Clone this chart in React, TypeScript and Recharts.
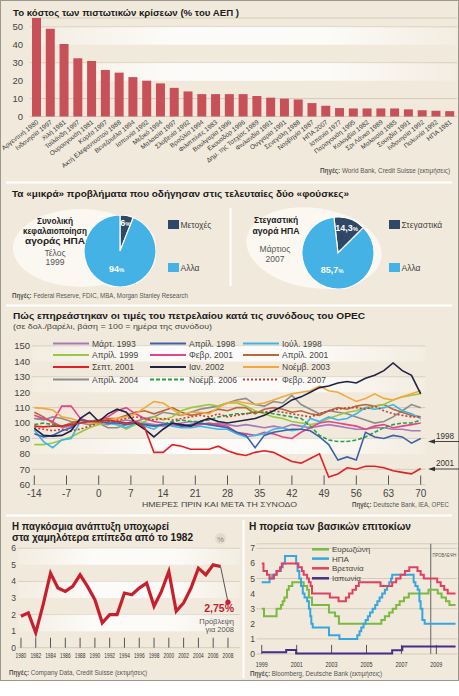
import React from "react";
import {
  BarChart,
  Bar,
  LineChart,
  Line,
  PieChart,
  Pie,
  Cell,
  XAxis,
  YAxis,
  CartesianGrid,
  ReferenceArea,
  ReferenceLine,
} from "recharts";

const FONT = '"Liberation Sans", Arial, sans-serif';
const BG = "#f1eadc";
const GRID = "#d4cbba";
const INK = "#333333";
const DARK = "#2f4867";
const LIGHT = "#45b2e6";
const RED = "#c6202e";

// --- 1. cost of credit crises, % of GDP
const crisisNames = [
  "Αργεντινή 1980", "Ινδονησία 1997", "Χιλή 1981", "Ταϊλάνδη 1997", "Ουρουγουάη 1981",
  "Κορέα 1997", "Ακτή Ελεφαντοστού 1988", "Βενεζουέλα 1994", "Ιαπωνία 1992", "Μεξικό 1994",
  "Μαλαισία 1997", "Σλοβενία 1992", "Βραζιλία 1994", "Φιλιππίνες 1983", "Βουλγαρία 1996",
  "Εκουαδόρ 1996", "Δημ. της Τσεχίας 1989", "Φινλανδία 1991", "Ουγγαρία 1991", "Σενεγάλη 1988",
  "Νορβηγία 1987", "ΗΠΑ 2007", "Ισπανία 1977", "Παραγουάη 1995", "Κολομβία 1982",
  "Σρι Λάνκα 1989", "Μαλαισία 1985", "Σουηδία 1991", "Ινδονησία 1992", "Πολωνία 1992", "ΗΠΑ 1981",
];
const crisisCost = [
  55, 49, 40.5, 32.5, 31, 26, 24.5, 22, 20, 18.5, 16, 14, 12.5, 12.5, 12.5, 12.5,
  11.5, 10.5, 10, 9.5, 7.5, 6, 4.7, 4.5, 4.5, 4.5, 4.5, 4, 3.5, 3.2, 3,
];
const costTicks = [0, 10, 20, 30, 40, 50];

// --- 2. the two bubbles
const splitNames = ["Μετοχές", "Αλλα"];
const stocksSplit = [6, 94];
const housingNames = ["Στεγαστικά", "Αλλα"];
const housingSplit = [14.3, 85.7];

// --- 3. oil prices around OPEC meetings (base 100 = meeting day)
const oilDays = [
  -14, -12, -10, -8, -6, -4, -2, 0, 2, 4, 6,
  8, 10, 12, 14, 16, 18, 20, 22, 24, 26, 28,
  30, 32, 34, 36, 38, 40, 42, 44, 46, 48, 50,
  52, 54, 56, 58, 60, 62, 64, 66, 68, 70,
];
const oilTicks = [-14, -7, 0, 7, 14, 21, 28, 35, 42, 49, 56, 63, 70];
const oilLevels = [60, 70, 80, 90, 100, 110, 120, 130, 140, 150];

const mar1993 = [
  103, 103, 101, 97, 98, 100, 101, 100, 99, 101, 102,
  101, 100, 99, 98, 99, 100, 101, 100, 99, 100, 99,
  98, 99, 98, 97, 98, 97, 99, 98, 97, 98, 99,
  98, 97, 96, 96, 97, 97, 96, 96, 95, 95,
];
const apr1998 = [
  93, 91, 92, 95, 97, 102, 101, 101, 100, 100, 99,
  100, 99, 98, 99, 100, 98, 99, 100, 99, 98, 97,
  94, 92, 84, 92, 94, 95, 96, 96, 95, 91, 86,
  76, 78, 76, 94, 91, 90, 92, 91, 87, 90,
];
const jul1998 = [
  95.5, 88, 84, 89, 90, 101, 101, 102, 100, 99, 97,
  100, 98, 96, 100, 98, 97, 97, 98, 97, 96, 96,
  93, 91, 92, 93, 96, 97, 95, 96, 103, 101, 104,
  102, 103, 106, 110, 109, 110, 112, 108, 106, 103,
];
const apr1999 = [
  86, 86, 87, 89, 91, 94, 97, 99, 100, 99, 96,
  99, 101, 104, 102, 104, 108, 110, 111, 112, 111, 113,
  113, 111, 108, 106, 104, 103, 101, 100, 99, 100, 103,
  105, 107, 108, 110, 111, 112, 115, 117, 118, 119,
];
const feb2001 = [
  105, 103, 101, 111, 111, 103, 101, 102, 104, 108, 110,
  106, 103, 101, 100, 99, 98, 98, 99, 100, 99, 98,
  94, 93, 92, 94, 93, 91, 90, 94, 97, 100, 101,
  100, 99, 98, 96, 98, 99, 97, 98, 99, 100,
];
const apr2001 = [
  107, 104, 100, 98, 100, 102, 101, 102, 103, 103, 105,
  107, 108, 106, 108, 110, 107, 105, 106, 107, 109, 108,
  110, 110, 106, 109, 110, 109, 107, 108, 106, 105, 108,
  110, 109, 111, 112, 111, 112, 109, 107, 105, 104,
];
const sep2001 = [
  98, 97.5, 98, 98, 99, 100, 101, 101, 102, 101, 100,
  101, 97, 81, 81, 86, 85, 83, 83, 83, 85, 82,
  80, 79, 81, 82, 81, 78, 75, 74, 77, 80, 65,
  67, 71, 70, 72, 72, 71, 69, 68, 67, 70.5,
];
const jan2002 = [
  96.5, 92, 91.5, 92, 95, 103, 107, 101, 106, 109, 107,
  100, 96, 91, 96, 100, 99, 98, 101, 103, 101, 100,
  101, 102, 103, 105, 108, 111, 115, 117, 120, 123, 124,
  126, 127, 126, 129, 131, 134, 139, 134, 131, 119,
];
const nov2003 = [
  110, 109.5, 108.5, 104, 103, 101, 100, 100, 102, 103, 104,
  106, 110, 114, 113, 109, 105, 107, 107, 106, 110, 113,
  114, 113, 112, 113, 115, 117, 119, 120, 121, 124, 121,
  120, 117, 114, 116, 119, 116, 115, 117, 119, 121,
];
const apr2004 = [
  103, 102, 104, 103, 101, 100, 99, 100, 97, 97, 99,
  101, 103, 104, 107, 106, 105, 107, 109, 110, 111, 113,
  115, 116, 112, 111, 114, 113, 118, 112, 109, 106, 108,
  107, 106, 104, 102, 100, 101, 104, 108, 112, 110,
];
const nov2006 = [
  99, 100, 99, 98, 99, 101, 101, 102, 101, 101, 100,
  100, 99, 98, 99, 101, 102, 101, 101, 102, 104, 105,
  106, 106, 107, 107, 106, 105, 104, 103, 98, 92, 89,
  88, 88, 89, 91, 94, 97, 99, 100, 100, 102,
];
const feb2007 = [
  97, 96, 95, 96, 95, 96, 98, 100, 101, 102, 103,
  104, 103, 102, 103, 102, 103, 104, 105, 104, 106, 104,
  105, 106, 107, 107, 108, 107, 106, 105, 104, 106, 108,
  109, 110, 110, 109, 111, 108, 106, 105, 104, 104,
];

const oilSeries = [
  { key: "mar1993", name: "Μάρτ. 1993", values: mar1993, color: "#a77ab5" },
  { key: "apr1998", name: "Απρίλ. 1998", values: apr1998, color: "#3d60a8" },
  { key: "jul1998", name: "Ιούλ. 1998", values: jul1998, color: "#3db4ea" },
  { key: "apr1999", name: "Απρίλ. 1999", values: apr1999, color: "#9cc740" },
  { key: "feb2001", name: "Φεβρ. 2001", values: feb2001, color: "#e6438a" },
  { key: "apr2001", name: "Απρίλ. 2001", values: apr2001, color: "#b6683e" },
  { key: "sep2001", name: "Σεπτ. 2001", values: sep2001, color: "#e22127" },
  { key: "jan2002", name: "Ιαν. 2002", values: jan2002, color: "#1f2246" },
  { key: "nov2003", name: "Νοέμβ. 2003", values: nov2003, color: "#f4a83b" },
  { key: "apr2004", name: "Απρίλ. 2004", values: apr2004, color: "#8c8c8c" },
  { key: "nov2006", name: "Νοέμβ. 2006", values: nov2006, color: "#27a046", dash: "4 2" },
  { key: "feb2007", name: "Φεβρ. 2007", values: feb2007, color: "#c8402e", dash: "2 2" },
];
// which line sits on top of which
const oilDrawOrder = [
  "mar1993", "apr2004", "apr2001", "apr1999", "feb2001", "jul1998",
  "nov2006", "feb2007", "nov2003", "apr1998", "jan2002", "sep2001",
];

// --- 4. world growth, %
const growthYears = [
  1980, 1981, 1982, 1983, 1984, 1985, 1986, 1987, 1988, 1989, 1990, 1991, 1992, 1993,
  1994, 1995, 1996, 1997, 1998, 1999, 2000, 2001, 2002, 2003, 2004, 2005, 2006, 2007,
];
const growthValues = [
  1.9, 2.1, 0.9, 2.6, 4.5, 3.6, 3.4, 3.7, 4.4, 3.7, 2.9, 1.5, 2.0, 2.0,
  3.3, 3.2, 3.6, 3.9, 2.5, 3.4, 4.6, 2.2, 2.7, 3.6, 4.8, 4.4, 5.0, 4.9,
];
const forecastYears = [2007, 2008];
const forecastValues = [4.9, 2.75];
const yearTicks = [1980, 1982, 1984, 1986, 1988, 1990, 1992, 1994, 1996, 1998, 2000, 2002, 2004, 2006, 2008];
const growthLevels = [0, 1, 2, 3, 4, 5, 6];

// --- 5. policy rates, %
const ezDates = [
  1999.0, 1999.13, 1999.85, 2000.1, 2000.2, 2000.3, 2000.45, 2000.55, 2000.75, 2001.4,
  2001.6, 2001.7, 2001.88, 2002.85, 2003.2, 2003.42, 2005.85, 2006.05, 2006.3, 2006.5,
  2006.7, 2006.9, 2007.15, 2007.42, 2008.55, 2009.08, 2009.3, 2009.55, 2009.75, 2010.1,
];
const ezRates = [
  3.0, 2.5, 3.0, 3.25, 3.5, 3.75, 4.25, 4.5, 4.75, 4.5,
  4.25, 3.75, 3.25, 2.75, 2.5, 2.0, 2.25, 2.5, 2.75, 3.0,
  3.25, 3.5, 3.75, 4.0, 4.25, 4.0, 3.75, 3.5, 3.25, 3.25,
];
const usDates = [
  1999.0, 1999.45, 1999.6, 1999.85, 2000.1, 2000.2, 2000.33, 2000.97, 2001.05, 2001.15,
  2001.25, 2001.35, 2001.45, 2001.6, 2001.7, 2001.78, 2001.84, 2001.92, 2002.85, 2003.45,
  2004.47, 2004.6, 2004.7, 2004.83, 2004.95, 2005.08, 2005.2, 2005.35, 2005.5, 2005.62,
  2005.75, 2005.9, 2006.05, 2006.18, 2006.3, 2006.4, 2006.47, 2007.7, 2007.8, 2007.93,
  2008.03, 2008.1, 2008.2, 2008.33, 2010.1,
];
const usRates = [
  4.75, 5.0, 5.25, 5.5, 5.75, 6.0, 6.5, 6.0, 5.5, 5.0,
  4.5, 4.0, 3.75, 3.5, 3.0, 2.5, 2.0, 1.75, 1.25, 1.0,
  1.25, 1.5, 1.75, 2.0, 2.25, 2.5, 2.75, 3.0, 3.25, 3.5,
  3.75, 4.0, 4.25, 4.5, 4.75, 5.0, 5.25, 4.75, 4.5, 4.25,
  3.5, 3.0, 2.25, 2.0, 2.0,
];
const ukDates = [
  1999.0, 1999.1, 1999.3, 1999.45, 1999.7, 1999.85, 2000.05, 2000.15, 2001.1, 2001.3,
  2001.4, 2001.6, 2001.7, 2001.8, 2001.88, 2002.9, 2003.4, 2003.82, 2004.0, 2004.2,
  2004.4, 2004.56, 2005.8, 2006.47, 2006.7, 2006.95, 2007.2, 2007.45, 2007.92, 2008.1,
  2008.28, 2009.05, 2009.25, 2009.45, 2009.65, 2010.1,
];
const ukRates = [
  6.0, 5.5, 5.25, 5.0, 5.25, 5.5, 5.75, 6.0, 5.75, 5.5,
  5.25, 5.0, 4.75, 4.5, 4.0, 3.75, 3.5, 3.75, 4.0, 4.25,
  4.5, 4.75, 4.5, 4.75, 5.0, 5.25, 5.5, 5.75, 5.5, 5.25,
  5.0, 4.75, 4.5, 4.25, 4.0, 4.0,
];
const jpDates = [1999.0, 2000.4, 2000.97, 2006.47, 2007.05, 2010.1];
const jpRates = [0.12, 0.27, 0.03, 0.25, 0.5, 0.5];
const rateTicks = [1999, 2001, 2003, 2005, 2007, 2009];
const rateLevels = [0, 1, 2, 3, 4, 5, 6, 7];
const forecastFrom = 2008.68;

const rateSeries = [
  { name: "Ευρωζώνη", dates: ezDates, rates: ezRates, color: "#7bb940" },
  { name: "ΗΠΑ", dates: usDates, rates: usRates, color: "#36a6df" },
  { name: "Βρετανία", dates: ukDates, rates: ukRates, color: "#e2405f" },
  { name: "Ιαπωνία", dates: jpDates, rates: jpRates, color: "#4a2b87" },
];

const crisisData = crisisNames.map((name, i) => ({ name, cost: crisisCost[i] }));
const oilData = oilDays.map((day, i) => {
  const row: Record<string, number> = { day };
  oilSeries.forEach((s) => (row[s.key] = s.values[i]));
  return row;
});
const growthData = growthYears.map((year, i) => ({ year, value: growthValues[i] }));
const forecastData = forecastYears.map((year, i) => ({ year, value: forecastValues[i] }));
const stocksData = splitNames.map((name, i) => ({ name, value: stocksSplit[i] }));
const housingData = housingNames.map((name, i) => ({ name, value: housingSplit[i] }));

type TP = {
  x: number;
  y: number;
  s?: number;
  w?: number;
  b?: boolean;
  c?: string;
  a?: "start" | "middle" | "end";
  children: React.ReactNode;
};
function T({ x, y, s = 9, w, b, c = INK, a = "start", children }: TP) {
  return (
    <text
      x={x}
      y={y}
      fontSize={s}
      fontWeight={b ? "bold" : "normal"}
      fill={c}
      textAnchor={a}
      fontFamily={FONT}
      textLength={w}
      lengthAdjust={w ? "spacingAndGlyphs" : undefined}
    >
      {children}
    </text>
  );
}

function Source({ x, y, w, text }: { x: number; y: number; w: number; text: string }) {
  return (
    <T x={x} y={y} s={6.5} w={w} c="#555">
      <tspan fontWeight="bold">Πηγές:</tspan> {text}
    </T>
  );
}

function CrisisTick({ x, y, payload }: any) {
  const tx = x + 2;
  const ty = y + 6.5;
  return (
    <text x={tx} y={ty} transform={`rotate(-38 ${tx} ${ty})`} textAnchor="end" fontSize={6.5} fill="#3a3a3a" fontFamily={FONT}>
      {payload.value}
    </text>
  );
}

function YearTick({ x, y, payload, dy, size, len }: any) {
  return (
    <text x={x} y={y + dy} textAnchor="middle" fontSize={size} fill="#333" fontFamily={FONT} textLength={len} lengthAdjust="spacingAndGlyphs">
      {payload.value}
    </text>
  );
}

const RAD = Math.PI / 180;
function pieLabel(factors: number[]) {
  return (p: any) => {
    const r = p.outerRadius * factors[p.index];
    const x = p.cx + r * Math.cos(-p.midAngle * RAD);
    const y = p.cy + r * Math.sin(-p.midAngle * RAD);
    return (
      <text x={x} y={y} dy={3.5} textAnchor="middle" fill="#fff" fontSize={9} fontWeight="bold" fontFamily={FONT}>
        {String(p.value).replace(".", ",")}
        <tspan fontSize={6}>%</tspan>
      </text>
    );
  };
}

function Band({ id }: { id: string }) {
  return (
    <linearGradient id={id} x1="0" y1="0" x2="1" y2="0">
      <stop offset="0%" stopColor="#ffffff" stopOpacity={0.15} />
      <stop offset="35%" stopColor="#ffffff" stopOpacity={0.85} />
      <stop offset="70%" stopColor="#ffffff" stopOpacity={0.8} />
      <stop offset="100%" stopColor="#ffffff" stopOpacity={0.15} />
    </linearGradient>
  );
}

const axisTick = (size: number) => ({ fontSize: size, fill: "#444", fontFamily: FONT });

export default function App() {
  return (
    <div style={{ position: "absolute", left: 0, top: 0, width: 459, height: 696, background: "#fff", overflow: "hidden" }}>
      {/* background panels */}
      <svg width={459} height={696} style={{ position: "absolute", left: 0, top: 0 }}>
        <rect x={0.5} y={0.5} width={458} height={680} fill={BG} stroke="#9d978c" />
        <line x1={6} x2={452} y1={182.5} y2={182.5} stroke="#fff" strokeWidth={2} />
        <line x1={6} x2={452} y1={305.5} y2={305.5} stroke="#fff" strokeWidth={2} />
        <line x1={6} x2={452} y1={515.5} y2={515.5} stroke="#fff" strokeWidth={2} />
        <line x1={243.5} x2={243.5} y1={520} y2={678} stroke="#fff" strokeWidth={2} />
        <line x1={230.5} x2={230.5} y1={208} y2={286} stroke="#fff" strokeWidth={2} />
        <ellipse cx={81} cy={248} rx={68} ry={39} fill="#fbf8f2" />
        <ellipse cx={314} cy={248} rx={68} ry={40} fill="#fbf8f2" transform="rotate(8 314 248)" />
      </svg>

      {/* 1. cost of crises */}
      <div style={{ position: "absolute", left: 0, top: 0 }}>
        <BarChart width={459} height={185} data={crisisData} margin={{ top: 18, right: 2, bottom: 0, left: 0 }}>
          <defs>
            <Band id="bandTop" />
          </defs>
          <ReferenceArea y1={40} y2={50} fill="url(#bandTop)" fillOpacity={1} stroke="none" />
          <ReferenceArea y1={20} y2={30} fill="url(#bandTop)" fillOpacity={1} stroke="none" />
          <CartesianGrid vertical={false} stroke={GRID} />
          <XAxis dataKey="name" interval={0} height={68.5} axisLine={false} tickLine={false} tickSize={0} tickMargin={0} tick={(p: any) => <CrisisTick {...p} />} />
          <YAxis width={30} domain={[0, 55]} ticks={costTicks} axisLine={false} tickLine={false} tickSize={0} tickMargin={7} tick={axisTick(9.5)} />
          <Bar dataKey="cost" fill="#c85159" barSize={9} isAnimationActive={false} />
        </BarChart>
      </div>

      {/* 2. bubbles */}
      <div style={{ position: "absolute", left: 84, top: 214.5 }}>
        <PieChart width={72} height={72} margin={{ top: 0, right: 0, bottom: 0, left: 0 }}>
          <Pie data={stocksData} dataKey="value" cx={36} cy={36} outerRadius={36} startAngle={90} endAngle={-270} stroke="#fff" strokeWidth={1.2} labelLine={false} label={pieLabel([0.82, 0.5])} isAnimationActive={false}>
            <Cell fill={DARK} />
            <Cell fill={LIGHT} />
          </Pie>
        </PieChart>
      </div>
      <div style={{ position: "absolute", left: 302, top: 216.5 }}>
        <PieChart width={72} height={72} margin={{ top: 0, right: 0, bottom: 0, left: 0 }}>
          <Pie data={housingData} dataKey="value" cx={36} cy={36} outerRadius={36} startAngle={96.5} endAngle={-263.5} stroke="#fff" strokeWidth={1.2} labelLine={false} label={pieLabel([0.74, 0.5])} isAnimationActive={false}>
            <Cell fill={DARK} />
            <Cell fill={LIGHT} />
          </Pie>
        </PieChart>
      </div>

      {/* 3. oil */}
      <div style={{ position: "absolute", left: 0, top: 340 }}>
        <LineChart width={459} height={160} data={oilData} margin={{ top: 6, right: 33.7, bottom: 0, left: 0 }}>
          <defs>
            <Band id="bandOil" />
          </defs>
          <ReferenceArea y1={140} y2={150} fill="url(#bandOil)" fillOpacity={1} stroke="none" />
          <ReferenceArea y1={120} y2={130} fill="url(#bandOil)" fillOpacity={1} stroke="none" />
          <ReferenceArea y1={80} y2={90} fill="url(#bandOil)" fillOpacity={1} stroke="none" />
          <CartesianGrid vertical={false} stroke={GRID} />
          <XAxis dataKey="day" type="number" domain={[-14.5, 71]} ticks={oilTicks} interval={0} height={15.3} axisLine={false} tickLine={false} tickSize={0} tickMargin={5} tick={axisTick(10)} />
          <YAxis width={32} domain={[60, 150]} ticks={oilLevels} axisLine={false} tickLine={false} tickSize={0} tickMargin={2} tick={axisTick(9.5)} />
          {oilTicks.map((t) => (
            <ReferenceLine key={t} segment={[{ x: t, y: 60 }, { x: t, y: 66 }]} stroke="#555" strokeWidth={1} />
          ))}
          {oilDrawOrder.map((k) => {
            const s = oilSeries.find((o) => o.key === k)!;
            return (
              <Line key={k} dataKey={k} type="linear" stroke={s.color} strokeWidth={1.6} strokeDasharray={s.dash} dot={false} isAnimationActive={false} />
            );
          })}
        </LineChart>
      </div>

      {/* 4. growth */}
      <div style={{ position: "absolute", left: 0, top: 540 }}>
        <LineChart width={244} height={130} data={growthData} margin={{ top: 8.3, right: 4.2, bottom: 0, left: 0 }}>
          <defs>
            <Band id="bandGrowth" />
          </defs>
          <ReferenceArea y1={5} y2={6} fill="url(#bandGrowth)" fillOpacity={1} stroke="none" />
          <ReferenceArea y1={3} y2={4} fill="url(#bandGrowth)" fillOpacity={1} stroke="none" />
          <ReferenceArea y1={1} y2={2} fill="url(#bandGrowth)" fillOpacity={1} stroke="none" />
          <CartesianGrid vertical={false} stroke={GRID} />
          <XAxis dataKey="year" type="number" domain={[1979.6, 2009.6]} ticks={yearTicks} interval={0} height={22.3} axisLine={false} tickLine={false} tickSize={0} tickMargin={0} tick={(p: any) => <YearTick {...p} dy={10} size={6.5} len={10.7} />} />
          <YAxis width={18} domain={[0, 6]} ticks={growthLevels} axisLine={false} tickLine={false} tickSize={0} tickMargin={2} tick={axisTick(8.5)} />
          {yearTicks.map((t) => (
            <ReferenceLine key={t} segment={[{ x: t, y: 0 }, { x: t, y: 0.6 }]} stroke="#555" strokeWidth={1} />
          ))}
          <Line dataKey="value" type="linear" stroke={RED} strokeWidth={3.2} dot={false} isAnimationActive={false} />
          <Line
            data={forecastData}
            dataKey="value"
            type="linear"
            stroke="#555"
            strokeWidth={1}
            isAnimationActive={false}
            dot={(p: any) => (p.index === 1 ? <circle key="fc" cx={p.cx} cy={p.cy} r={2.6} fill={RED} /> : <g key={`fc${p.index}`} />)}
          />
        </LineChart>
      </div>

      {/* 5. policy rates */}
      <div style={{ position: "absolute", left: 244, top: 538 }}>
        <LineChart width={215} height={140} margin={{ top: 5.8, right: 1.7, bottom: 0, left: 0 }}>
          <CartesianGrid vertical={false} stroke={GRID} />
          <XAxis dataKey="t" type="number" domain={[1998.7, 2010.2]} ticks={rateTicks} interval={0} height={24} axisLine={false} tickLine={false} tickSize={0} tickMargin={0} tick={(p: any) => <YearTick {...p} dy={12.8} size={7.5} len={12} />} />
          <YAxis width={12.5} domain={[0, 7.3]} ticks={rateLevels} axisLine={false} tickLine={false} tickSize={0} tickMargin={1.5} tick={axisTick(8.5)} />
          {rateTicks.map((t) => (
            <ReferenceLine key={t} segment={[{ x: t, y: 0 }, { x: t, y: 0.6 }]} stroke="#555" strokeWidth={1} />
          ))}
          <ReferenceLine x={forecastFrom} stroke="#666" strokeWidth={1} />
          {rateSeries.map((s) => (
            <Line
              key={s.name}
              data={s.dates.map((t, i) => ({ t, v: s.rates[i] }))}
              dataKey="v"
              type="stepAfter"
              stroke={s.color}
              strokeWidth={2}
              dot={false}
              isAnimationActive={false}
            />
          ))}
        </LineChart>
      </div>

      {/* texts, legends, notes */}
      <svg width={459} height={696} style={{ position: "absolute", left: 0, top: 0, pointerEvents: "none" }}>
        <T x={13} y={15.5} s={9.5} w={226} b c="#1b1b1b">Το κόστος των πιστωτικών κρίσεων (% του ΑΕΠ )</T>
        <Source x={320} y={172.5} w={130} text="World Bank, Credit Suisse (εκτιμήσεις)" />

        <T x={12} y={197} s={9.5} w={337} b c="#1b1b1b">Τα «μικρά» προβλήματα που οδήγησαν στις τελευταίες δύο «φούσκες»</T>
        <T x={55} y={224.3} s={8.5} w={36} b a="middle" c="#222">Συνολική</T>
        <T x={55} y={234} s={8.5} w={64} b a="middle" c="#222">κεφαλαιοποίηση</T>
        <T x={55} y={244} s={8.5} w={60} b a="middle" c="#222">αγοράς ΗΠΑ</T>
        <T x={55} y={255.7} s={8.5} a="middle" c="#555">Τέλος</T>
        <T x={55} y={265} s={8.5} a="middle" c="#555">1999</T>
        <T x={276} y={223.3} s={8.5} w={44} b a="middle" c="#222">Στεγαστική</T>
        <T x={276} y={234} s={8.5} w={47} b a="middle" c="#222">αγορά ΗΠΑ</T>
        <T x={275} y={252.3} s={8.5} a="middle" c="#555">Μάρτιος</T>
        <T x={275} y={261.7} s={8.5} a="middle" c="#555">2007</T>
        {[
          { x: 168, names: splitNames },
          { x: 389, names: housingNames },
        ].map((g) =>
          g.names.map((n, i) => (
            <g key={g.x + n}>
              <rect x={g.x} y={i === 0 ? 220 : 263} width={11} height={9} fill={i === 0 ? DARK : LIGHT} />
              <T x={g.x + 12.5} y={i === 0 ? 227.7 : 270.5} s={8.5} c="#444">{n}</T>
            </g>
          ))
        )}
        <Source x={12} y={298.3} w={176} text="Federal Reserve, FDIC, MBA, Morgan Stanley Research" />

        <T x={13} y={318.5} s={9.5} w={352} b c="#1b1b1b">Πώς επηρεάστηκαν οι τιμές του πετρελαίου κατά τις συνόδους του OPEC</T>
        <T x={13} y={328.5} s={8} w={199} c="#444">(σε δολ./βαρέλι, βάση = 100 = ημέρα της συνόδου)</T>
        {oilSeries.map((s, i) => {
          const lx = [53, 150, 243][i % 3];
          const ly = [343.5, 355, 367, 379.5][Math.floor(i / 3)];
          return (
            <g key={s.key}>
              <line x1={lx} x2={lx + 36} y1={ly} y2={ly} stroke={s.color} strokeWidth={2} strokeDasharray={s.dash} />
              <T x={lx + 39} y={ly + 3} s={8.5} c="#444">{s.name}</T>
            </g>
          );
        })}
        <T x={142} y={507} s={7.5} w={155} c="#444">ΗΜΕΡΕΣ ΠΡΙΝ ΚΑΙ ΜΕΤΑ ΤΗ ΣΥΝΟΔΟ</T>
        <Source x={352} y={507.3} w={97} text="Deutsche Bank, IEA, OPEC" />
        {[
          { label: "1998", y: 441.5 },
          { label: "2001", y: 469 },
        ].map((a) => (
          <g key={a.label}>
            <T x={436} y={a.y - 3} s={8.5} w={18} c="#333">{a.label}</T>
            <line x1={432} x2={459} y1={a.y} y2={a.y} stroke="#333" strokeWidth={0.9} />
            <polygon points={`${428},${a.y} ${435},${a.y - 2.3} ${435},${a.y + 2.3}`} fill="#333" />
          </g>
        ))}

        <T x={12} y={530} s={10} w={157} b c="#1b1b1b">Η παγκόσμια ανάπτυξη υποχωρεί</T>
        <T x={12} y={540.7} s={10} w={181} b c="#1b1b1b">στα χαμηλότερα επίπεδα από το 1982</T>
        <circle cx={220.5} cy={538.5} r={5.5} fill="#e4dccb" />
        <T x={220.5} y={541.5} s={7.5} a="middle" c="#888">%</T>
        <T x={234} y={611.5} s={10.5} b a="end" c={RED}>2,75%</T>
        <T x={234} y={623.5} s={7.5} a="end" c="#555">Πρόβλεψη</T>
        <T x={234} y={632} s={7.5} a="end" c="#555">για 2008</T>
        <Source x={9} y={675} w={138} text="Company Data, Credit Suisse (εκτιμήσεις)" />

        <T x={249} y={530} s={10} w={162} b c="#1b1b1b">Η πορεία των βασικών επιτοκίων</T>
        <g transform="translate(432.5 557) scale(0.72 1)">
          <T x={0} y={0} s={5.8} c="#555">ΠΡΟΒΛΕΨΗ</T>
        </g>
        {rateSeries.map((s, i) => {
          const ly = [549.3, 558.6, 568.3, 578.3][i];
          return (
            <g key={s.name}>
              <line x1={312} x2={329} y1={ly} y2={ly} stroke={s.color} strokeWidth={2.5} />
              <T x={332} y={ly + 3} s={8} c="#444">{s.name}</T>
            </g>
          );
        })}
        <Source x={250} y={675.5} w={132} text="Bloomberg, Deutsche Bank (εκτιμήσεις)" />
      </svg>
    </div>
  );
}
